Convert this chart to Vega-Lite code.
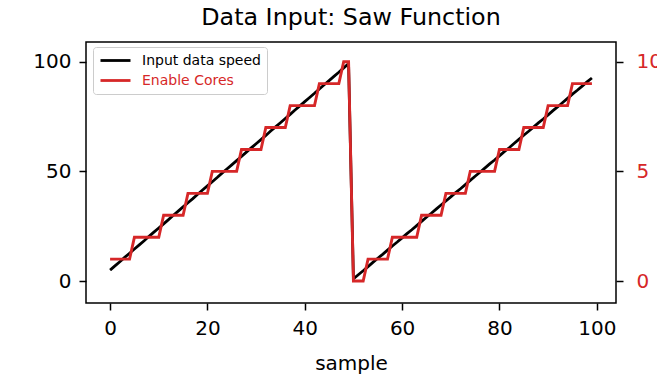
{
  "$schema": "https://vega.github.io/schema/vega-lite/v6.json",
  "width": 530,
  "height": 261,
  "autosize": {"type": "none"},
  "padding": {"left": 86, "top": 42, "right": 41, "bottom": 77},
  "background": "white",
  "title": {"text": "Data Input: Saw Function", "font": "DejaVu Sans", "fontSize": 23.8, "fontWeight": "normal", "color": "black", "anchor": "middle", "offset": 12},
  "config": {
    "view": {"stroke": "black", "strokeWidth": 1.5},
    "axis": {"font": "DejaVu Sans", "labelFont": "DejaVu Sans", "titleFont": "DejaVu Sans", "labelFontSize": 20, "titleFontSize": 20, "titleFontWeight": "normal", "labelColor": "black", "titleColor": "black", "tickColor": "black", "tickSize": 7, "tickWidth": 1.5, "domain": false, "grid": false, "labelPadding": 8}
  },
  "datasets": {
    "speed": [
      {"sample": 0, "speed": 5.0}, {"sample": 1, "speed": 6.9}, {"sample": 2, "speed": 8.8}, {"sample": 3, "speed": 10.8}, {"sample": 4, "speed": 12.7},
      {"sample": 5, "speed": 14.6}, {"sample": 6, "speed": 16.5}, {"sample": 7, "speed": 18.4}, {"sample": 8, "speed": 20.4}, {"sample": 9, "speed": 22.3},
      {"sample": 10, "speed": 24.2}, {"sample": 11, "speed": 26.1}, {"sample": 12, "speed": 28.0}, {"sample": 13, "speed": 30.0}, {"sample": 14, "speed": 31.9},
      {"sample": 15, "speed": 33.8}, {"sample": 16, "speed": 35.7}, {"sample": 17, "speed": 37.6}, {"sample": 18, "speed": 39.6}, {"sample": 19, "speed": 41.5},
      {"sample": 20, "speed": 43.4}, {"sample": 21, "speed": 45.3}, {"sample": 22, "speed": 47.2}, {"sample": 23, "speed": 49.2}, {"sample": 24, "speed": 51.1},
      {"sample": 25, "speed": 53.0}, {"sample": 26, "speed": 54.9}, {"sample": 27, "speed": 56.8}, {"sample": 28, "speed": 58.8}, {"sample": 29, "speed": 60.7},
      {"sample": 30, "speed": 62.6}, {"sample": 31, "speed": 64.5}, {"sample": 32, "speed": 66.4}, {"sample": 33, "speed": 68.4}, {"sample": 34, "speed": 70.3},
      {"sample": 35, "speed": 72.2}, {"sample": 36, "speed": 74.1}, {"sample": 37, "speed": 76.0}, {"sample": 38, "speed": 78.0}, {"sample": 39, "speed": 79.9},
      {"sample": 40, "speed": 81.8}, {"sample": 41, "speed": 83.7}, {"sample": 42, "speed": 85.6}, {"sample": 43, "speed": 87.6}, {"sample": 44, "speed": 89.5},
      {"sample": 45, "speed": 91.4}, {"sample": 46, "speed": 93.3}, {"sample": 47, "speed": 95.2}, {"sample": 48, "speed": 97.2}, {"sample": 49, "speed": 99.1},
      {"sample": 50, "speed": 1.0}, {"sample": 51, "speed": 2.9}, {"sample": 52, "speed": 4.7}, {"sample": 53, "speed": 6.6}, {"sample": 54, "speed": 8.5},
      {"sample": 55, "speed": 10.4}, {"sample": 56, "speed": 12.2}, {"sample": 57, "speed": 14.1}, {"sample": 58, "speed": 16.0}, {"sample": 59, "speed": 17.8},
      {"sample": 60, "speed": 19.7}, {"sample": 61, "speed": 21.6}, {"sample": 62, "speed": 23.4}, {"sample": 63, "speed": 25.3}, {"sample": 64, "speed": 27.2},
      {"sample": 65, "speed": 29.1}, {"sample": 66, "speed": 30.9}, {"sample": 67, "speed": 32.8}, {"sample": 68, "speed": 34.7}, {"sample": 69, "speed": 36.5},
      {"sample": 70, "speed": 38.4}, {"sample": 71, "speed": 40.3}, {"sample": 72, "speed": 42.1}, {"sample": 73, "speed": 44.0}, {"sample": 74, "speed": 45.9},
      {"sample": 75, "speed": 47.8}, {"sample": 76, "speed": 49.6}, {"sample": 77, "speed": 51.5}, {"sample": 78, "speed": 53.4}, {"sample": 79, "speed": 55.2},
      {"sample": 80, "speed": 57.1}, {"sample": 81, "speed": 59.0}, {"sample": 82, "speed": 60.8}, {"sample": 83, "speed": 62.7}, {"sample": 84, "speed": 64.6},
      {"sample": 85, "speed": 66.5}, {"sample": 86, "speed": 68.3}, {"sample": 87, "speed": 70.2}, {"sample": 88, "speed": 72.1}, {"sample": 89, "speed": 73.9},
      {"sample": 90, "speed": 75.8}, {"sample": 91, "speed": 77.7}, {"sample": 92, "speed": 79.5}, {"sample": 93, "speed": 81.4}, {"sample": 94, "speed": 83.3},
      {"sample": 95, "speed": 85.2}, {"sample": 96, "speed": 87.0}, {"sample": 97, "speed": 88.9}, {"sample": 98, "speed": 90.8}, {"sample": 99, "speed": 92.6}
    ],
    "cores": [
      {"sample": 0, "cores": 1}, {"sample": 1, "cores": 1}, {"sample": 2, "cores": 1}, {"sample": 3, "cores": 1}, {"sample": 4, "cores": 1},
      {"sample": 5, "cores": 2}, {"sample": 6, "cores": 2}, {"sample": 7, "cores": 2}, {"sample": 8, "cores": 2}, {"sample": 9, "cores": 2},
      {"sample": 10, "cores": 2}, {"sample": 11, "cores": 3}, {"sample": 12, "cores": 3}, {"sample": 13, "cores": 3}, {"sample": 14, "cores": 3},
      {"sample": 15, "cores": 3}, {"sample": 16, "cores": 4}, {"sample": 17, "cores": 4}, {"sample": 18, "cores": 4}, {"sample": 19, "cores": 4},
      {"sample": 20, "cores": 4}, {"sample": 21, "cores": 5}, {"sample": 22, "cores": 5}, {"sample": 23, "cores": 5}, {"sample": 24, "cores": 5},
      {"sample": 25, "cores": 5}, {"sample": 26, "cores": 5}, {"sample": 27, "cores": 6}, {"sample": 28, "cores": 6}, {"sample": 29, "cores": 6},
      {"sample": 30, "cores": 6}, {"sample": 31, "cores": 6}, {"sample": 32, "cores": 7}, {"sample": 33, "cores": 7}, {"sample": 34, "cores": 7},
      {"sample": 35, "cores": 7}, {"sample": 36, "cores": 7}, {"sample": 37, "cores": 8}, {"sample": 38, "cores": 8}, {"sample": 39, "cores": 8},
      {"sample": 40, "cores": 8}, {"sample": 41, "cores": 8}, {"sample": 42, "cores": 8}, {"sample": 43, "cores": 9}, {"sample": 44, "cores": 9},
      {"sample": 45, "cores": 9}, {"sample": 46, "cores": 9}, {"sample": 47, "cores": 9}, {"sample": 48, "cores": 10}, {"sample": 49, "cores": 10},
      {"sample": 50, "cores": 0}, {"sample": 51, "cores": 0}, {"sample": 52, "cores": 0}, {"sample": 53, "cores": 1}, {"sample": 54, "cores": 1},
      {"sample": 55, "cores": 1}, {"sample": 56, "cores": 1}, {"sample": 57, "cores": 1}, {"sample": 58, "cores": 2}, {"sample": 59, "cores": 2},
      {"sample": 60, "cores": 2}, {"sample": 61, "cores": 2}, {"sample": 62, "cores": 2}, {"sample": 63, "cores": 2}, {"sample": 64, "cores": 3},
      {"sample": 65, "cores": 3}, {"sample": 66, "cores": 3}, {"sample": 67, "cores": 3}, {"sample": 68, "cores": 3}, {"sample": 69, "cores": 4},
      {"sample": 70, "cores": 4}, {"sample": 71, "cores": 4}, {"sample": 72, "cores": 4}, {"sample": 73, "cores": 4}, {"sample": 74, "cores": 5},
      {"sample": 75, "cores": 5}, {"sample": 76, "cores": 5}, {"sample": 77, "cores": 5}, {"sample": 78, "cores": 5}, {"sample": 79, "cores": 5},
      {"sample": 80, "cores": 6}, {"sample": 81, "cores": 6}, {"sample": 82, "cores": 6}, {"sample": 83, "cores": 6}, {"sample": 84, "cores": 6},
      {"sample": 85, "cores": 7}, {"sample": 86, "cores": 7}, {"sample": 87, "cores": 7}, {"sample": 88, "cores": 7}, {"sample": 89, "cores": 7},
      {"sample": 90, "cores": 8}, {"sample": 91, "cores": 8}, {"sample": 92, "cores": 8}, {"sample": 93, "cores": 8}, {"sample": 94, "cores": 8},
      {"sample": 95, "cores": 9}, {"sample": 96, "cores": 9}, {"sample": 97, "cores": 9}, {"sample": 98, "cores": 9}, {"sample": 99, "cores": 9}
    ]
  },
  "layer": [
    {
      "data": {"name": "speed"},
      "mark": {"type": "line", "strokeWidth": 2.8, "clip": true},
      "encoding": {
        "x": {"field": "sample", "type": "quantitative", "scale": {"domain": [-4.95, 103.95], "nice": false, "zero": false}, "axis": {"values": [0, 20, 40, 60, 80, 100], "title": "sample", "titlePadding": 15}},
        "y": {"field": "speed", "type": "quantitative", "scale": {"domain": [-10, 109], "nice": false, "zero": false}, "axis": {"orient": "left", "values": [0, 50, 100], "title": null}},
        "color": {
          "datum": "Input data speed",
          "type": "nominal",
          "scale": {"domain": ["Input data speed", "Enable Cores"], "range": ["#000000", "#d62728"]},
          "legend": {
            "title": null,
            "orient": "none",
            "legendX": 7,
            "legendY": 5,
            "symbolType": "stroke",
            "symbolSize": 900,
            "symbolStrokeWidth": 2.8,
            "clipHeight": 15,
            "labelFont": "DejaVu Sans",
            "labelFontSize": 14,
            "labelOffset": 10,
            "rowPadding": 5,
            "padding": 6,
            "fillColor": "rgba(255,255,255,0.8)",
            "strokeColor": "#cccccc",
            "cornerRadius": 3,
            "encode": {"labels": {"update": {"fill": {"signal": "datum.label === 'Enable Cores' ? '#d62728' : '#000000'"}}}}
          }
        }
      }
    },
    {
      "data": {"name": "cores"},
      "mark": {"type": "line", "strokeWidth": 2.9, "clip": true},
      "encoding": {
        "x": {"field": "sample", "type": "quantitative"},
        "y": {"field": "cores", "type": "quantitative", "scale": {"domain": [-1, 10.9], "nice": false, "zero": false}, "axis": {"orient": "right", "values": [0, 5, 10], "title": null, "labelColor": "#d62728", "labelPadding": 13}},
        "color": {"datum": "Enable Cores", "type": "nominal"}
      }
    }
  ],
  "resolve": {"scale": {"y": "independent"}}
}
